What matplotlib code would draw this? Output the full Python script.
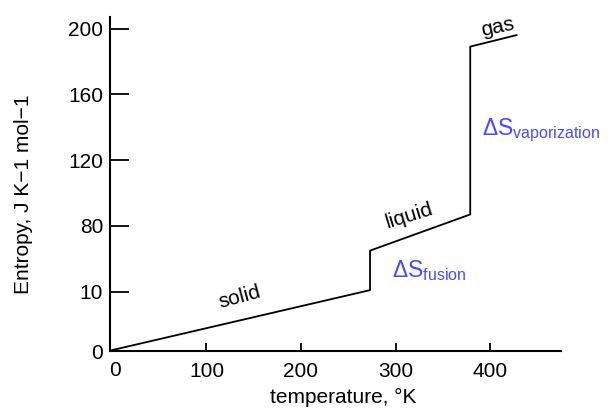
import matplotlib.pyplot as plt

plt.rcParams['font.family'] = ['Liberation Sans', 'DejaVu Sans']
plt.rcParams['mathtext.fontset'] = 'custom'
plt.rcParams['mathtext.rm'] = 'Liberation Sans'
plt.rcParams['mathtext.it'] = 'Liberation Sans'

# curve (y in the chart's own drawing units)
temperature = [0, 273, 273, 379, 379, 428]
entropy = [4.5, 41, 65, 87, 189, 196]

x_ticks = [100, 200, 300, 400]
y_tick_pos = [4, 40, 80, 120, 160, 200]
y_tick_labels = ['0', '10', '80', '120', '160', '200']

fig = plt.figure(figsize=(6.1, 4.11), dpi=100)
ax = fig.add_axes([110 / 610, 60 / 411, 451 / 610, 334 / 411])

ax.plot(temperature, entropy, color='black', linewidth=1.3)

ax.set_xlim(-2, 475)
ax.set_ylim(4, 207)
ax.spines['top'].set_visible(False)
ax.spines['right'].set_visible(False)
ax.spines['left'].set_linewidth(1.5)
ax.spines['bottom'].set_linewidth(1.5)

ax.set_xticks(x_ticks)
ax.set_yticks(y_tick_pos)
ax.set_yticklabels(y_tick_labels)
ax.tick_params(axis='y', direction='in', length=14, width=1.3, labelsize=15, pad=5)
ax.tick_params(axis='x', direction='in', length=6, width=1.3, labelsize=15, pad=8)
ax.text(3, -2, '0', ha='center', va='top', fontsize=15, transform=ax.transData)
ax.set_ylabel('Entropy, J K\u22121 mol\u22121', fontsize=15)
ax.yaxis.set_label_coords(-0.17, 0.47)
ax.set_xlabel('temperature, \u00b0K', fontsize=15)
ax.xaxis.set_label_coords(0.517, -0.11)

ax.text(135, 37, 'solid', fontsize=15, rotation=15, ha='center', va='center')
ax.text(314, 86, 'liquid', fontsize=15, rotation=17, ha='center', va='center')
ax.text(408, 201, 'gas', fontsize=15, rotation=12, ha='center', va='center')

blue = '#4a4aff'
ax.text(391, 138, r'$\Delta$S$_{\mathrm{vaporization}}$', fontsize=16.5, color=blue,
        ha='left', va='center', clip_on=False)
ax.text(296, 53, r'$\Delta$S$_{\mathrm{fusion}}$', fontsize=16.5, color=blue,
        ha='left', va='center')

fig.savefig('out.png', dpi=100)
